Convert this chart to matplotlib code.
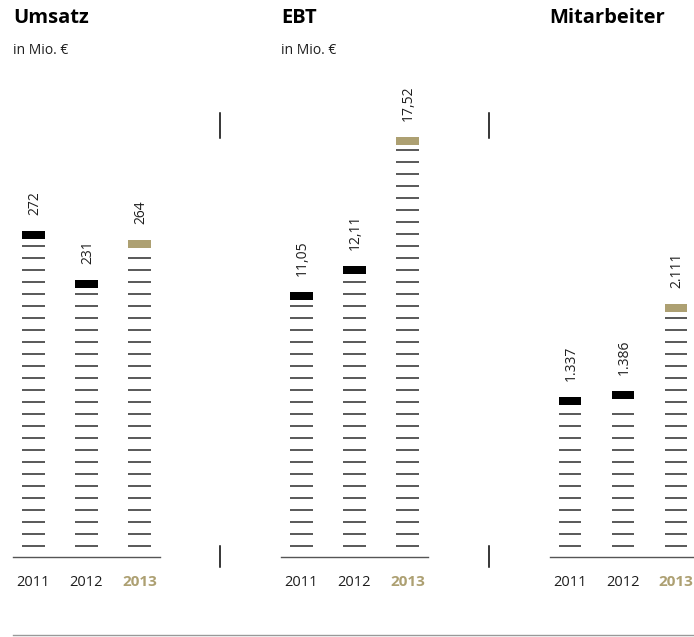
import numpy as np
import matplotlib.pyplot as plt
from matplotlib.lines import Line2D

plt.rcParams['font.family'] = ['Open Sans', 'DejaVu Sans']

# Daten
years = ['2011', '2012', '2013']
titles = ['Umsatz', 'EBT', 'Mitarbeiter']
subtitles = ['in Mio. €', 'in Mio. €', '']
umsatz = [272, 231, 264]
ebt = [11.05, 12.11, 17.52]
mitarbeiter = [1337, 1386, 2111]
umsatz_lbl = ['272', '231', '264']
ebt_lbl = ['11,05', '12,11', '17,52']
mitarbeiter_lbl = ['1.337', '1.386', '2.111']

series = [umsatz, ebt, mitarbeiter]
labels = [umsatz_lbl, ebt_lbl, mitarbeiter_lbl]
ymax = [397.5, 19.875, 3980]   # Skala je Panel

W, H = 694, 637
gold = '#ada072'
dark = '#1e1e1e'

fig = plt.figure(figsize=(W / 100, H / 100), dpi=100)

y_top, y_base = 80, 557       # Pixel von oben
panel_w = 147
x0s = [13, 281, 549.5]
step = 53.0                    # Pixel zwischen Balken
bw = 22.7                      # Balkenbreite in Pixel
blk = 8                        # Hoehe des Kopfblocks in Pixel

for i in range(3):
    x0 = x0s[i]
    ax = fig.add_axes([x0 / W, (H - y_base) / H, panel_w / W, (y_base - y_top) / H])
    ax.set_xlim(-20.4 / step, 2 + 20.6 / step)
    ax.set_ylim(0, ymax[i])
    ppu = (y_base - y_top) / ymax[i]   # Pixel pro Einheit

    x = np.arange(3)
    vals = np.array(series[i])
    cols = ['black', 'black', gold]

    # Kopfbloecke
    ax.bar(x, blk / ppu, bottom=vals - blk / ppu, width=bw / step,
           color=cols, linewidth=0)

    # Streifen
    for j in range(3):
        top_px = vals[j] * ppu - blk - 5
        ys = np.arange(11.3, top_px, 12.0) / ppu
        ax.hlines(ys, x[j] - bw / step / 2, x[j] + bw / step / 2,
                  color='#3c3c3c', linewidth=1.2)
        ax.annotate(labels[i][j], xy=(x[j], vals[j]), xytext=(1, 16),
                    textcoords='offset pixels', rotation=90,
                    ha='center', va='bottom', fontsize=10, color=dark)

    ax.set_xticks(x, years)
    ax.tick_params(axis='x', length=0, pad=13, labelsize=10.5)
    for k, t in enumerate(ax.get_xticklabels()):
        t.set_color(gold if k == 2 else dark)
        if k == 2:
            t.set_fontweight('bold')
            t.set_fontsize(11)
    ax.set_yticks([])
    for s in ['top', 'left', 'right']:
        ax.spines[s].set_visible(False)
    ax.spines['bottom'].set_color('#555555')
    ax.spines['bottom'].set_linewidth(1.0)
    ax.patch.set_alpha(0)

    fig.text(x0 / W, 1 - 18 / H, titles[i], fontsize=14.5, fontweight='bold',
             color='black', va='center', ha='left')
    if subtitles[i]:
        fig.text(x0 / W, 1 - 51 / H, subtitles[i], fontsize=10,
                 color=dark, va='center', ha='left')

# Trennlinien
for xs in [220, 489]:
    for (a, b) in [(113, 138), (546, 567)]:
        fig.add_artist(Line2D([xs / W, xs / W], [1 - a / H, 1 - b / H],
                              color='black', linewidth=1.1))

fig.add_artist(Line2D([13 / W, 1], [1 - 635 / H, 1 - 635 / H],
                      color='#999999', linewidth=1.0))

plt.savefig('out.png', dpi=100)
